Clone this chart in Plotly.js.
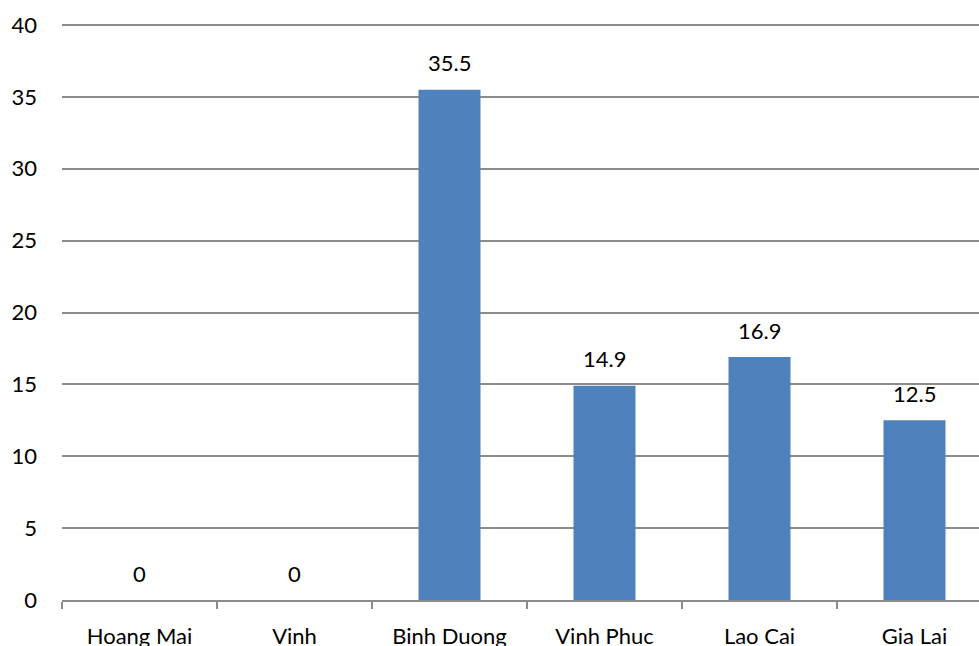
<!DOCTYPE html>
<html><head><meta charset="utf-8">
<script src="https://cdn.plot.ly/plotly-3.0.1.min.js"></script>
<style>html,body{margin:0;padding:0;overflow:hidden;background:#fff;width:979px;height:646px}</style>
</head><body><div id="chart"></div>
<script>
const categories = ["Hoang Mai", "Vinh", "Binh Duong", "Vinh Phuc", "Lao Cai", "Gia Lai"];
const values = [0, 0, 35.5, 14.9, 16.9, 12.5];
const yTicks = [0, 5, 10, 15, 20, 25, 30, 35, 40];

const fontFam = "Lato, 'Open Sans', sans-serif";
const fs = 22;
const trace = {
  type: "bar", x: categories, y: values,
  marker: {color: "#4F81BD"}, hoverinfo: "none"
};
const annotations = categories.map((c, i) => ({
  x: c, y: values[i], xref: "x", yref: "y",
  text: String(values[i]), showarrow: false,
  yanchor: "middle", yshift: 27,
  font: {family: fontFam, size: fs, color: "#000"}
}));
const layout = {
  width: 992, height: 700,
  margin: {l: 62, r: 0, t: 23, b: 100},
  paper_bgcolor: "#fff", plot_bgcolor: "#fff",
  bargap: 0.6, showlegend: false,
  font: {family: fontFam, size: fs, color: "#000"},
  xaxis: {
    type: "category", showline: true, linecolor: "#8c8c8c", linewidth: 2,
    ticks: "outside", tickson: "boundaries", ticklen: 7, tickcolor: "#8c8c8c", tickwidth: 2,
    showgrid: false, ticklabelstandoff: 16,
    tickfont: {family: fontFam, size: fs, color: "#000"}
  },
  yaxis: {
    range: [0, 40.14], tickvals: yTicks, ticktext: yTicks.map(String),
    showgrid: true, gridcolor: "#8c8c8c", gridwidth: 2,
    zeroline: false, showline: false, ticks: "",
    ticklabelstandoff: 24,
    tickfont: {family: fontFam, size: fs, color: "#000"}
  },
  annotations: annotations
};
Plotly.newPlot("chart", [trace], layout, {displayModeBar: false, staticPlot: true});
</script></body></html>
